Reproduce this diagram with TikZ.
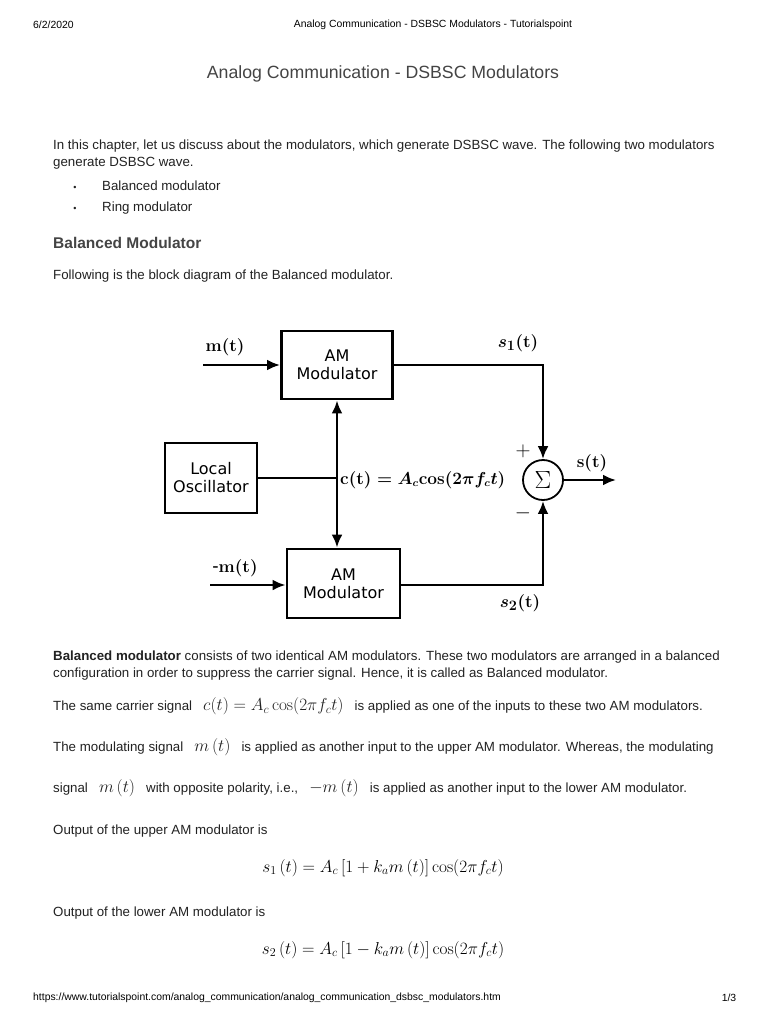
\documentclass[tikz,border=0pt]{standalone}
\usepackage{amsmath}
\usepackage[no-math]{fontspec}
\setmainfont{Liberation Sans}
\newfontfamily\verd{DejaVu Sans}
\usepackage{xcolor}
\usetikzlibrary{arrows.meta,positioning,calc}
\definecolor{bodytxt}{HTML}{222222}
\definecolor{greytxt}{HTML}{444444}
\tikzset{
  ambox/.style={draw, line width=2.8pt, minimum width=111pt, minimum height=68pt,
               align=center, font=\verd\fontsize{16}{18}\selectfont, inner sep=0pt},
  oscbox/.style={ambox, minimum width=92pt, minimum height=70pt},
  sumnode/.style={draw, circle, line width=1.8pt, minimum size=40pt, inner sep=0pt,
               font=\fontsize{26}{26}\selectfont},
  flow/.style={-{Latex[length=13pt,width=11pt]}, line width=2.8pt},
  wire/.style={line width=2.8pt},
  sig/.style={inner sep=0pt, font=\fontsize{19}{21}\selectfont\boldmath},
  body/.style={anchor=west, inner sep=0pt, font=\fontsize{13.3}{15}\selectfont,
               text=bodytxt, text height=10pt, text depth=2.8pt},
  dot/.style={inner sep=0pt, font=\fontsize{9}{10}\selectfont, text=bodytxt},
  eqn/.style={inner sep=0pt, font=\fontsize{17}{20}\selectfont},
  hdr/.style={inner sep=0pt, font=\fontsize{10.4}{12}\selectfont},
}
\newcommand{\mth}[1]{{\fontsize{17}{17}\selectfont$#1$}}

\begin{document}
\begin{tikzpicture}[x=1pt, y=-1pt]
  \useasboundingbox[fill=white] (0,0) rectangle (768,1024);
  % page header
  \node[hdr, anchor=west] (date) at (33,25) {6/2/2020};
  \node[hdr] (pagehead) at (433,25) {Analog Communication - DSBSC Modulators - Tutorialspoint};
  \node[inner sep=0pt, font=\fontsize{17.7}{20}\selectfont, text=greytxt] (title) at (383,74)
    {Analog Communication - DSBSC Modulators};
  % intro text
  \node[body] (intro1) at (53,146) {In this chapter, let us discuss about the modulators, which generate DSBSC wave. The following two modulators};
  \node[body] (intro2) at (53,163) {generate DSBSC wave.};
  \node[dot] (bul1) at (75,188) {\textbullet};
  \node[body] (item1) at (102,187) {Balanced modulator};
  \node[dot] (bul2) at (75,209) {\textbullet};
  \node[body] (item2) at (102,208) {Ring modulator};
  \node[body, font=\bfseries\fontsize{15.5}{18}\selectfont, text=greytxt] (head) at (53,245) {Balanced Modulator};
  \node[body] (follow) at (53,276) {Following is the block diagram of the Balanced modulator.};

  % block diagram
  \node[ambox] (amup) at (337,365) {AM\\Modulator};
  \node[ambox, minimum width=113pt, minimum height=69pt] (amlow) at (343.5,583.5) {AM\\Modulator};
  \node[oscbox] (osc) at (211,478) {Local\\Oscillator};
  \node[sumnode] (sum) at (543,480) {$\Sigma$};
  \coordinate (cjoin) at (337,478);
  \coordinate (min) at (203,365);
  \coordinate (mneg) at (210,585);
  \coordinate (sout) at (616,480);
  \draw[wire] (osc.east) -- (cjoin);
  \draw[flow] (cjoin) -- (cjoin |- amup.south);
  \draw[flow] (cjoin) -- (cjoin |- amlow.north);
  \draw[flow] (min) -- (amup.west);
  \draw[flow] (mneg) -- (mneg -| amlow.west);
  \draw[flow] (amup.east) -- (amup.east -| sum) -- (sum.north);
  \draw[flow] (mneg -| amlow.east) -- (mneg -| sum) -- (sum.south);
  \draw[flow] (sum.east) -- (sout);
  \node[sig] (lm) at (225,347) {$\mathbf{m(t)}$};
  \node[sig] (lmneg) at (235,568) {$\mathbf{\text{-}m(t)}$};
  \node[sig] (ls1) at (518,343) {$s_1\mathbf{(t)}$};
  \node[sig] (ls2) at (520,603) {$s_2\mathbf{(t)}$};
  \node[sig] (lsout) at (592,463) {$\mathbf{s(t)}$};
  \node[sig, anchor=west, font=\fontsize{16}{18}\selectfont\boldmath] (lc) at (340,480)
    {$\mathbf{c(t)} = A_c\mathbf{cos}(2\pi f_c t)$};
  \node[inner sep=0pt, font=\fontsize{20}{20}\selectfont] (plus) at (523,451) {$+$};
  \node[inner sep=0pt, font=\fontsize{20}{20}\selectfont] (minus) at (523,513) {$-$};

  % explanation
  \node[body] (para1) at (53,657) {\textbf{Balanced modulator} consists of two identical AM modulators. These two modulators are arranged in a balanced};
  \node[body] (para2) at (53,674) {configuration in order to suppress the carrier signal. Hence, it is called as Balanced modulator.};
  \node[body] (carrier) at (53,707) {The same carrier signal \ \ \mth{c(t) = A_c\cos(2\pi f_c t)} \ \ is applied as one of the inputs to these two AM modulators.};
  \node[body] (modsig) at (53,748) {The modulating signal \ \ \mth{m\,(t)} \ \ is applied as another input to the upper AM modulator. Whereas, the modulating};
  \node[body] (modneg) at (53,789) {signal \ \ \mth{m\,(t)} \ \ with opposite polarity, i.e., \ \ \mth{-m\,(t)} \ \ is applied as another input to the lower AM modulator.};
  \node[body] (out1) at (53,831) {Output of the upper AM modulator is};
  \node[eqn] (eq1) at (383,868) {$s_1\,(t) = A_c\,[1 + k_a m\,(t)]\cos(2\pi f_c t)$};
  \node[body] (out2) at (53,913) {Output of the lower AM modulator is};
  \node[eqn] (eq2) at (383,950) {$s_2\,(t) = A_c\,[1 - k_a m\,(t)]\cos(2\pi f_c t)$};

  % page footer
  \node[hdr, anchor=west] (url) at (33,998) {https://www.tutorialspoint.com/analog\_communication/analog\_communication\_dsbsc\_modulators.htm};
  \node[hdr] (pageno) at (729,998) {1/3};
\end{tikzpicture}
\end{document}
